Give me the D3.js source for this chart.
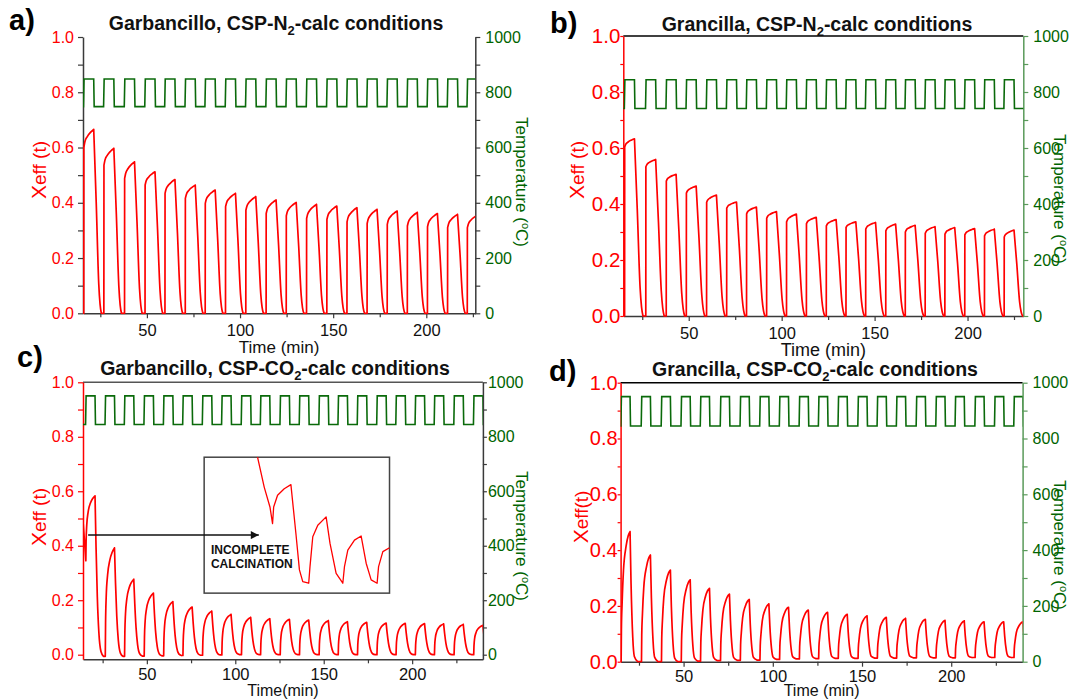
<!DOCTYPE html>
<html><head><meta charset="utf-8">
<script src="https://cdn.jsdelivr.net/npm/d3@7"></script>
<style>
body{margin:0;background:#fff}
svg{font-family:"Liberation Sans", Arial, Helvetica, sans-serif}
</style>
</head><body>
<svg id="chart" width="1069" height="699"></svg>
<script>
// ================= DATA =================
// Tick values
const xMajorTicks = [50, 100, 150, 200];
const xMinorTicks = [25, 75, 125, 175, 225];
const yMajorTicks = [0, 0.2, 0.4, 0.6, 0.8, 1.0];
const yMinorTicks = [0.1, 0.3, 0.5, 0.7, 0.9];
const tMajorTicks = [0, 200, 400, 600, 800, 1000];
const tMinorTicks = [100, 300, 500, 700, 900];

// Panel a: Garbancillo, CSP-N2-calc
const aOnsetT = [16.1, 26.9, 38.0, 49.0, 59.7, 70.6, 81.3, 92.2, 103.1, 114.0, 124.8, 135.7, 146.6, 157.4, 168.2, 179.0, 189.8, 200.6, 211.4, 222.0];
const aOnsetX = [0.600, 0.536, 0.488, 0.464, 0.434, 0.416, 0.398, 0.386, 0.373, 0.361, 0.353, 0.343, 0.340, 0.331, 0.325, 0.322, 0.316, 0.313, 0.310, 0.310];
const aPeakX  = [0.666, 0.597, 0.548, 0.512, 0.484, 0.464, 0.446, 0.434, 0.422, 0.410, 0.401, 0.394, 0.388, 0.382, 0.376, 0.370, 0.365, 0.361, 0.358, 0.355];
const aTemp = [748, 848];   // low, high (°C)

// Panel b: Grancilla, CSP-N2-calc
const bOnsetT = [15.5, 26.9, 37.9, 48.7, 59.6, 70.4, 81.1, 91.9, 102.6, 113.3, 124.0, 134.6, 145.2, 156.0, 166.5, 177.2, 187.8, 198.5, 209.1, 219.7];
const bOnsetX = [0.604, 0.533, 0.482, 0.439, 0.406, 0.385, 0.365, 0.349, 0.336, 0.330, 0.322, 0.316, 0.310, 0.304, 0.300, 0.295, 0.292, 0.290, 0.286, 0.282];
const bPeakX  = [0.633, 0.559, 0.506, 0.464, 0.432, 0.407, 0.389, 0.373, 0.364, 0.352, 0.344, 0.336, 0.334, 0.328, 0.324, 0.319, 0.316, 0.312, 0.310, 0.307];
const bTemp = [741, 844];

// Panel c: Garbancillo, CSP-CO2-calc
const cLeadT = [13.9, 14.7, 15.5];
const cLeadX = [0.49, 0.42, 0.345];
const cOnsetT = [15.5, 26.5, 37.4, 48.5, 59.5, 70.4, 81.5, 92.4, 103.5, 114.3, 125.4, 136.3, 147.4, 158.2, 169.1, 180.1, 190.9, 201.8, 212.6, 223.7, 234.8];
const cPeakX  = [0.583, 0.392, 0.277, 0.226, 0.195, 0.175, 0.160, 0.148, 0.137, 0.132, 0.130, 0.127, 0.125, 0.121, 0.119, 0.116, 0.115, 0.114, 0.113, 0.111, 0.108];
const cBaseX  = [0.345, -0.006, -0.006, -0.005, -0.004, -0.003, -0.002, -0.001, 0, 0, 0, 0, 0, 0, 0, 0, 0, 0, 0, 0, 0];
const cTemp = [845, 950];
// inset (normalised box coordinates) and annotation
const insetU = [0.288, 0.324, 0.355, 0.369, 0.375, 0.396, 0.432, 0.468, 0.495, 0.514, 0.532, 0.564, 0.571, 0.586, 0.613, 0.658, 0.679, 0.712, 0.748, 0.757, 0.775, 0.811, 0.847, 0.874, 0.901, 0.933, 0.941, 0.964, 1.0];
const insetV = [1.0, 0.78, 0.634, 0.512, 0.634, 0.72, 0.768, 0.798, 0.439, 0.171, 0.085, 0.073, 0.195, 0.415, 0.5, 0.561, 0.366, 0.146, 0.073, 0.195, 0.317, 0.39, 0.42, 0.22, 0.098, 0.073, 0.195, 0.305, 0.334];
const insetBoxT = [82.4, 187.2];
const insetBoxX = [0.226, 0.725];
const arrowT = [16.8, 113.3];
const arrowX = [0.439, 0.439];
const noteLines = ["INCOMPLETE", "CALCINATION"];
const noteT = 86.2;
const noteX = [0.384, 0.332];

// Panel d: Grancilla, CSP-CO2-calc
const dOnsetT = [15.0, 26.4, 37.6, 48.7, 59.5, 70.7, 81.8, 92.8, 103.8, 114.9, 125.7, 136.7, 147.8, 158.6, 169.4, 180.5, 191.5, 202.3, 213.4, 224.4, 235.2];
const dPeakX  = [0.466, 0.382, 0.328, 0.293, 0.263, 0.242, 0.223, 0.207, 0.195, 0.185, 0.177, 0.170, 0.164, 0.159, 0.155, 0.152, 0.148, 0.146, 0.143, 0.143, 0.143];
const dBaseX  = [0, 0, 0, 0, 0.002, 0.004, 0.005, 0.006, 0.008, 0.010, 0.011, 0.012, 0.012, 0.013, 0.013, 0.014, 0.014, 0.014, 0.015, 0.015, 0.015];
const dTemp = [845, 950];

// ================= SHAPE TEMPLATES (fractions of a stage) =================
const RISE_N2 = [[0,0],[0.1,0.3],[0.35,0.6],[0.67,0.83],[1,1]];
const DROP_N2 = [[0,1],[0.33,0.6],[0.66,0.16],[0.83,0.05],[1,0]];
const RISE_C = [[0,0],[0.03,0.3],[0.1,0.55],[0.25,0.75],[0.5,0.89],[0.75,0.96],[1,1]];
const DROP_C = [[0,1],[0.12,0.68],[0.27,0.37],[0.45,0.15],[0.7,0.03],[1,0]];
const RISE_D = [[0,0],[0.03,0.25],[0.11,0.45],[0.26,0.70],[0.56,0.89],[0.8,0.97],[1,1]];
const DROP_D = [[0,1],[0.13,0.6],[0.35,0.19],[0.56,0.04],[1,0]];

const RED = "#ff0000", GREEN = "#0a6a0a", GREEN_TXT = "#006400", GREEN_AX = "#5a9a5a", GRAY = "#3a3a3a";
const TICK_FS = 16;
const svg = d3.select("#chart");
const defs = svg.append("defs");
defs.append("marker").attr("id","arrowhead").attr("viewBox","0 0 10 10").attr("refX",10).attr("refY",5)
  .attr("markerWidth",10).attr("markerHeight",8).attr("markerUnits","userSpaceOnUse").attr("orient","auto")
  .append("path").attr("d","M0,0L10,5L0,10Z").attr("fill","#111");

function n2Segments(on, onX, pk, R, D, t0) {
  const segs = [];
  let prev = [t0 - 1, 0];
  on.forEach((ts, i) => {
    const tp = ts + R;
    segs.push({c: "lin", p: [prev, [ts, 0], [ts + 0.05, onX[i]]]});
    segs.push({c: "mono", p: RISE_N2.map(([f, g]) => [ts + 0.05 + f * (R - 0.05), onX[i] + g * (pk[i] - onX[i])])});
    segs.push({c: "mono", p: DROP_N2.map(([f, g]) => [tp + f * D, g * pk[i]])});
    prev = [tp + D, 0];
  });
  segs.push({c: "lin", p: [prev, [prev[0] + 30, 0]]});
  return segs;
}
function co2Segments(on, pk, base, R, D, t0, rise, drop, leadT, leadX) {
  const segs = [];
  let prev = [t0 - 1, base[0]];
  if (leadT) {
    const lead = leadT.map((t, i) => [t, leadX[i]]);
    segs.push({c: "mono", p: lead});
    prev = lead[lead.length - 1];
  }
  on.forEach((ts, i) => {
    const b = base[i], nb = i + 1 < base.length ? base[i + 1] : base[i], tp = ts + R;
    segs.push({c: "lin", p: [prev, [ts, b]]});
    segs.push({c: "mono", p: rise.map(([f, g]) => [ts + f * R, b + g * (pk[i] - b)])});
    segs.push({c: "mono", p: drop.map(([f, g]) => [tp + f * D, nb + g * (pk[i] - nb)])});
    prev = [tp + D, nb];
  });
  segs.push({c: "lin", p: [prev, [prev[0] + 30, prev[1]]]});
  return segs;
}
function tempPts(on, R, lo, hi, t0, t1) {
  const pts = [[t0 - 1, lo]];
  on.forEach(ts => { pts.push([ts - 0.15, lo], [ts + 0.15, hi], [ts + R, hi], [ts + R + 0.25, lo]); });
  pts.push([t1 + 30, lo]);
  return pts;
}

const panels = [
  {key:"a", L:83, R:475.3, T:37, B:313.3, tDom:[15.7,226.3], xDom:[0,1], tempDom:[0,1000],
   segs: n2Segments(aOnsetT, aOnsetX, aPeakX, 5.35, 4.1, 15.7), temp: tempPts(aOnsetT, 5.35, aTemp[0], aTemp[1], 15.7, 226.3),
   leftC:GRAY, rightC:GRAY, topC:null, padL:4, tickL:5, padR:5, tickR:5, lfs:TICK_FS, padB:6,
   title:["Garbancillo, CSP-N","2","-calc conditions"], titleX:276, titleY:29.5, lab:"a)", labX:9, labY:30,
   yLab:"eff (t)", yLabX:40, yLabY:170, tLabX:522, tLabY:182, xLab:"Time (min)", xLabDy:39.5, xfs:17},
  {key:"b", L:623.3, R:1023.3, T:36, B:316, tDom:[14.8,230], xDom:[0,1], tempDom:[0,1000],
   segs: n2Segments(bOnsetT, bOnsetX, bPeakX, 5.3, 4.6, 14.8), temp: tempPts(bOnsetT, 5.3, bTemp[0], bTemp[1], 14.8, 230),
   leftC:RED, rightC:GREEN_AX, topC:"#000", padL:0, tickL:3, padR:5, tickR:5, lfs:20.5, padB:6,
   title:["Grancilla, CSP-N","2","-calc conditions"], titleX:817, titleY:31, lab:"b)", labX:550, labY:33,
   yLab:"eff (t)", yLabX:578, yLabY:170, tLabX:1060, tLabY:199, xLab:"Time (min)", xLabDy:40, xfs:18},
  {key:"c", L:83, R:482.9, T:382.3, B:659.3, tDom:[13.9,240], xDom:[-0.0169,1], tempDom:[-16.9,1000],
   segs: co2Segments(cOnsetT, cPeakX, cBaseX, 5.2, 4.8, 13.9, RISE_C, DROP_C, cLeadT, cLeadX),
   temp: tempPts(cOnsetT, 5.2, cTemp[0], cTemp[1], 13.9, 240),
   leftC:RED, rightC:GRAY, topC:"#555", padL:4, tickL:5, padR:1, tickR:4, lfs:TICK_FS, padB:4,
   title:["Garbancillo, CSP-CO","2","-calc conditions"], titleX:275, titleY:375, lab:"c)", labX:17, labY:367,
   yLab:"eff (t)", yLabX:40, yLabY:517, tLabX:522, tLabY:536, xLab:"Time(min)", xLabDy:36.2, xfs:16},
  {key:"d", L:620.6, R:1022.6, T:382.7, B:661.7, tDom:[14.7,240], xDom:[0,1], tempDom:[0,1000],
   segs: co2Segments(dOnsetT, dPeakX, dBaseX, 5.0, 4.3, 14.7, RISE_D, DROP_D),
   temp: tempPts(dOnsetT, 5.0, dTemp[0], dTemp[1], 14.7, 240),
   leftC:RED, rightC:GREEN_AX, topC:"#000", padL:0, tickL:3, padR:5, tickR:5, lfs:20, padB:4,
   title:["Grancilla, CSP-CO","2","-calc conditions"], titleX:815, titleY:376, lab:"d)", labX:549, labY:381,
   yLab:"eff(t)", yLabX:582, yLabY:517, tLabX:1060, tLabY:545, xLab:"Time (min)", xLabDy:33.8, xfs:16}
];

function styleAxis(sel, color, txtColor, fs) {
  sel.select(".domain").attr("stroke", color).attr("stroke-width", 1.5);
  sel.selectAll(".tick line").attr("stroke", color).attr("stroke-width", 1.2);
  sel.selectAll(".tick text").attr("fill", txtColor).attr("font-size", fs).attr("font-family", null);
}

panels.forEach(p => {
  const x = d3.scaleLinear().domain(p.tDom).range([p.L, p.R]);
  const y = d3.scaleLinear().domain(p.xDom).range([p.B, p.T]);
  const yT = d3.scaleLinear().domain(p.tempDom).range([p.B, p.T]);
  const g = svg.append("g");

  defs.append("clipPath").attr("id", "clip-" + p.key).append("rect")
    .attr("x", p.L).attr("y", p.T - 2).attr("width", p.R - p.L).attr("height", p.B - p.T + 3);

  // bottom axis
  const gb = g.append("g").attr("transform", `translate(0,${p.B})`)
    .call(d3.axisBottom(x).tickValues(xMajorTicks).tickSize(5).tickPadding(p.padB).tickSizeOuter(0));
  styleAxis(gb, GRAY, "#111", 16.5);
  const gbm = g.append("g").attr("transform", `translate(0,${p.B})`)
    .call(d3.axisBottom(x).tickValues(xMinorTicks).tickSize(4).tickFormat(""));
  gbm.select(".domain").remove();
  gbm.selectAll(".tick line").attr("stroke", GRAY).attr("stroke-width", 1.2);

  // top border
  if (p.topC) g.append("line").attr("x1", p.L).attr("x2", p.R).attr("y1", p.T).attr("y2", p.T)
    .attr("stroke", p.topC).attr("stroke-width", 1.4);

  // left axis
  const gl = g.append("g").attr("transform", `translate(${p.L},0)`)
    .call(d3.axisLeft(y).tickValues(yMajorTicks).tickFormat(d3.format(".1f")).tickSize(p.tickL).tickPadding(p.padL).tickSizeOuter(0));
  styleAxis(gl, p.leftC, RED, p.lfs);
  const glm = g.append("g").attr("transform", `translate(${p.L},0)`)
    .call(d3.axisLeft(y).tickValues(yMinorTicks).tickSize(p.tickL).tickFormat(""));
  glm.select(".domain").remove();
  glm.selectAll(".tick line").attr("stroke", p.leftC).attr("stroke-width", 1.2);

  // right axis
  const gr = g.append("g").attr("transform", `translate(${p.R},0)`)
    .call(d3.axisRight(yT).tickValues(tMajorTicks).tickFormat(d3.format("d")).tickSize(p.tickR).tickPadding(p.padR).tickSizeOuter(0));
  styleAxis(gr, p.rightC, GREEN_TXT, TICK_FS);
  const grm = g.append("g").attr("transform", `translate(${p.R},0)`)
    .call(d3.axisRight(yT).tickValues(tMinorTicks).tickSize(p.tickR).tickFormat(""));
  grm.select(".domain").remove();
  grm.selectAll(".tick line").attr("stroke", p.rightC).attr("stroke-width", 1.2);

  // data lines
  const plot = g.append("g").attr("clip-path", `url(#clip-${p.key})`);
  const lineT = d3.line().x(d => x(d[0])).y(d => yT(d[1]));
  plot.append("path").attr("d", lineT(p.temp)).attr("fill", "none").attr("stroke", GREEN).attr("stroke-width", 1.6);
  const lin = d3.line().x(d => x(d[0])).y(d => y(d[1]));
  const mono = d3.line().curve(d3.curveMonotoneX).x(d => x(d[0])).y(d => y(d[1]));
  const dStr = p.segs.map(s => (s.c === "mono" ? mono : lin)(s.p)).join("");
  plot.append("path").attr("d", dStr).attr("fill", "none").attr("stroke", RED)
    .attr("stroke-width", 1.7).attr("stroke-linejoin", "round").attr("stroke-linecap", "round");

  // title
  const tt = svg.append("text").attr("x", p.titleX).attr("y", p.titleY).attr("text-anchor", "middle")
    .attr("font-weight", "bold").attr("font-size", 19.5).attr("fill", "#111");
  tt.append("tspan").text(p.title[0]);
  tt.append("tspan").text(p.title[1]).attr("font-size", 13).attr("dy", 5);
  tt.append("tspan").text(p.title[2]).attr("dy", -5);
  // panel label
  svg.append("text").attr("x", p.labX).attr("y", p.labY).attr("font-weight", "bold").attr("font-size", 29)
    .attr("fill", "#000").text(p.lab);
  // x label
  svg.append("text").attr("x", (p.L + p.R) / 2).attr("y", p.B + p.xLabDy).attr("text-anchor", "middle")
    .attr("font-size", p.xfs).attr("fill", "#111").text(p.xLab);
  // left y label
  const yl = svg.append("text").attr("transform", `translate(${p.yLabX},${p.yLabY}) rotate(-90)`)
    .attr("text-anchor", "middle").attr("dy", "0.35em").attr("fill", RED);
  yl.append("tspan").text("X").attr("font-size", 21);
  yl.append("tspan").text(p.yLab).attr("font-size", 19);
  // right y label
  const tl = svg.append("text").attr("transform", `translate(${p.tLabX},${p.tLabY}) rotate(90)`)
    .attr("text-anchor", "middle").attr("dy", "0.35em").attr("fill", GREEN_TXT).attr("font-size", 17);
  tl.append("tspan").text("Temperature (");
  tl.append("tspan").text("o").attr("font-size", 11).attr("dy", -6);
  tl.append("tspan").text("C)").attr("dy", 6);

  // panel c extras: inset + annotation
  if (p.key === "c") {
    const bx0 = x(insetBoxT[0]), bx1 = x(insetBoxT[1]), by0 = y(insetBoxX[1]), by1 = y(insetBoxX[0]);
    g.append("rect").attr("x", bx0).attr("y", by0).attr("width", bx1 - bx0).attr("height", by1 - by0)
      .attr("fill", "#fff").attr("stroke", "#444").attr("stroke-width", 1.5);
    const iu = d3.scaleLinear().domain([0, 1]).range([bx0, bx1]);
    const iv = d3.scaleLinear().domain([0, 1]).range([by1, by0]);
    g.append("path").attr("d", d3.line().x(d => iu(d[0])).y(d => iv(d[1]))(insetU.map((u, i) => [u, insetV[i]])))
      .attr("fill", "none").attr("stroke", RED).attr("stroke-width", 1.3).attr("stroke-linejoin", "round");
    g.append("line").attr("x1", x(arrowT[0])).attr("x2", x(arrowT[1])).attr("y1", y(arrowX[0])).attr("y2", y(arrowX[1]))
      .attr("stroke", "#111").attr("stroke-width", 1.5).attr("marker-end", "url(#arrowhead)");
    noteLines.forEach((s, i) => {
      g.append("text").attr("x", x(noteT)).attr("y", y(noteX[i])).attr("dy", "0.35em")
        .attr("font-size", 12).attr("font-weight", "bold").attr("fill", "#111").text(s);
    });
  }
});
</script>
</body></html>
